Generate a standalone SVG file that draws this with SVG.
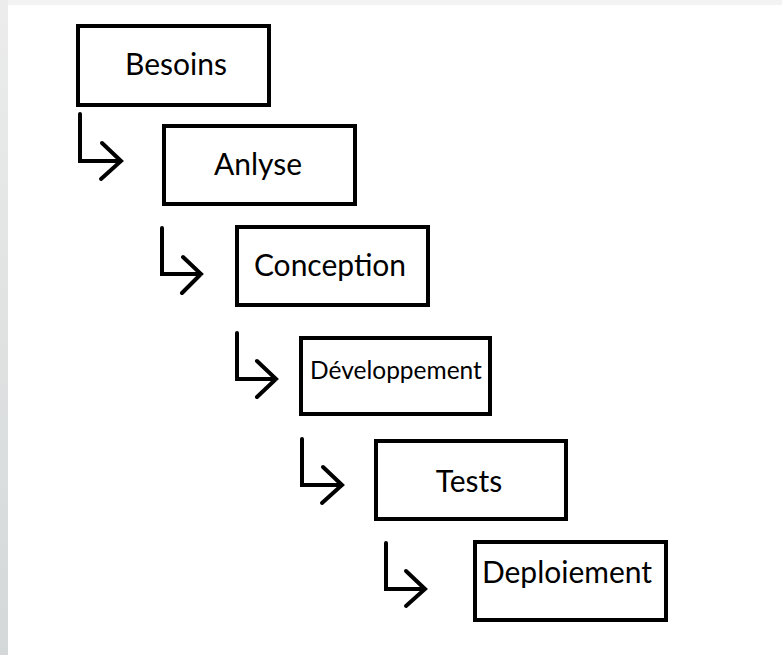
<svg xmlns="http://www.w3.org/2000/svg" width="782" height="655" viewBox="0 0 782 655">
  <defs>
    <linearGradient id="leftStrip" x1="0" y1="0" x2="0" y2="1">
      <stop offset="0" stop-color="#ececec"/>
      <stop offset="1" stop-color="#d4d8d8"/>
    </linearGradient>
    <style>
      .box { fill: #ffffff; stroke: #000000; stroke-width: 4; }
      .lbl { font-family: "Lato", "Liberation Sans", sans-serif; font-size: 30px; fill: #000000; text-anchor: middle; }
      .small { font-size: 24.5px; }
      .conn { fill: none; stroke: #000000; stroke-width: 4; stroke-linecap: round; stroke-linejoin: miter; }
    </style>
  </defs>
  <rect x="0" y="0" width="782" height="655" fill="#ffffff"/>
  <rect x="0" y="0" width="782" height="5" fill="#f3f3f3"/>
  <rect x="0" y="0" width="8" height="655" fill="url(#leftStrip)"/>

  <g id="besoins">
    <rect class="box" x="78" y="26" width="191" height="79"/>
    <text class="lbl" x="176" y="75">Besoins</text>
  </g>
  <g id="anlyse">
    <rect class="box" x="164" y="126" width="191" height="78"/>
    <text class="lbl" x="258" y="175">Anlyse</text>
  </g>
  <g id="conception">
    <rect class="box" x="237" y="227" width="191" height="78"/>
    <text class="lbl" x="330" y="276">Conception</text>
  </g>
  <g id="developpement">
    <rect class="box" x="301" y="338" width="189" height="76"/>
    <text class="lbl small" x="396" y="379">Développement</text>
  </g>
  <g id="tests">
    <rect class="box" x="376" y="441" width="190" height="78"/>
    <text class="lbl" x="469" y="492">Tests</text>
  </g>
  <g id="deploiement">
    <rect class="box" x="475" y="542" width="191" height="78"/>
    <text class="lbl" x="567" y="583">Deploiement</text>
  </g>

  <g id="connectors">
    <path class="conn" d="M80 114 V161 H121 M102 143 L121 161 L101 179"/>
    <path class="conn" d="M162 228 V274 H201 M183 257 L201 274 L182 293"/>
    <path class="conn" d="M237 333 V379 H276 M257 361 L276 379 L257 397"/>
    <path class="conn" d="M302 439 V485 H342 M323 467 L342 485 L322 503"/>
    <path class="conn" d="M386 543 V589 H425 M406 571 L425 589 L406 606"/>
  </g>
</svg>
